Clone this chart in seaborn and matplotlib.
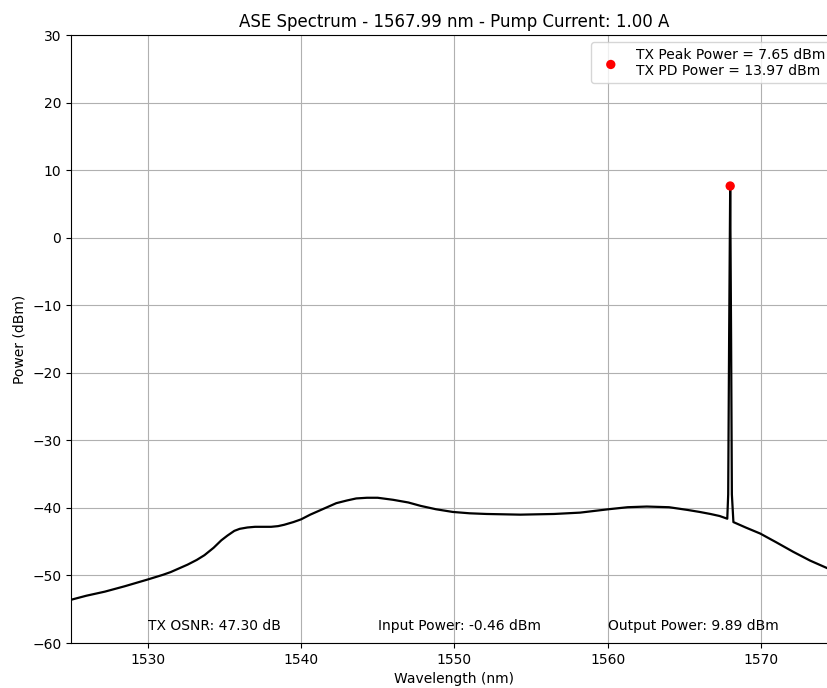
import matplotlib
matplotlib.use("Agg")
import matplotlib.pyplot as plt
import seaborn as sns
import pandas as pd

# ASE spectrum readings (wavelength nm, power dBm)
wavelength = [1525.0, 1526.0, 1527.2, 1528.5, 1530.0, 1531.0, 1531.5, 1532.0, 1532.6,
              1533.2, 1533.7, 1534.3, 1534.8, 1535.2, 1535.65, 1536.0, 1536.5, 1537.0,
              1537.5, 1538.05, 1538.5, 1538.9, 1539.5, 1540.0, 1540.6, 1541.3, 1542.3,
              1543.0, 1543.6, 1544.3, 1545.0, 1546.0, 1547.0, 1547.8, 1548.8, 1549.9,
              1551.0, 1552.1, 1554.3, 1556.5, 1558.2, 1560.05, 1561.3, 1562.55, 1564.0,
              1565.2, 1566.0, 1566.7, 1567.3, 1567.8, 1567.86, 1567.92, 1567.99, 1568.05,
              1568.1, 1568.2, 1569.0, 1569.95, 1571.0, 1572.1, 1573.2, 1574.3, 1575.0]
power = [-53.6, -53.0, -52.4, -51.6, -50.6, -49.9, -49.5, -49.0, -48.4,
         -47.7, -47.0, -45.9, -44.8, -44.1, -43.4, -43.1, -42.9, -42.8,
         -42.8, -42.8, -42.7, -42.5, -42.1, -41.7, -41.0, -40.3, -39.3,
         -38.9, -38.6, -38.5, -38.5, -38.8, -39.2, -39.7, -40.2, -40.6,
         -40.8, -40.9, -41.0, -40.9, -40.7, -40.2, -39.9, -39.8, -39.9,
         -40.3, -40.6, -40.9, -41.2, -41.6, -38.0, -15.0, 7.65, -15.0,
         -38.0, -42.1, -42.9, -43.8, -45.1, -46.5, -47.8, -48.9, -49.6]

peak_wl = [1567.99]
peak_pw = [7.65]
legend_label = "TX Peak Power = 7.65 dBm\nTX PD Power = 13.97 dBm"

title = "ASE Spectrum - 1567.99 nm - Pump Current: 1.00 A"
annotations = ["TX OSNR: 47.30 dB", "Input Power: -0.46 dBm", "Output Power: 9.89 dBm"]
annot_x = [1530.0, 1545.0, 1560.0]
annot_y = -57.5

xticks = [1530, 1540, 1550, 1560, 1570]
yticks = [-60, -50, -40, -30, -20, -10, 0, 10, 20, 30]

df = pd.DataFrame({"wl": wavelength, "pw": power})
dfp = pd.DataFrame({"wl": peak_wl, "pw": peak_pw})

fig = plt.figure(figsize=(8.27, 6.88), dpi=100)
ax = fig.add_axes([0.0859, 0.0654, 0.927, 0.8837])

sns.lineplot(data=df, x="wl", y="pw", ax=ax, color="black", linewidth=1.6,
             sort=False, estimator=None)
sns.scatterplot(data=dfp, x="wl", y="pw", ax=ax, color="red", s=45,
                edgecolor="none", label=legend_label, zorder=5)

ax.set_xlim(1525, 1575)
ax.set_ylim(-60, 30)
ax.set_xticks(xticks)
ax.set_yticks(yticks)
ax.grid(True, color="#b0b0b0", linewidth=0.8)
ax.set_axisbelow(True)
ax.set_title(title, fontsize=12)
ax.set_xlabel("Wavelength (nm)", fontsize=10)
ax.set_ylabel("Power (dBm)", fontsize=10)
ax.tick_params(labelsize=10)

for t, xx in zip(annotations, annot_x):
    ax.text(xx, annot_y, t, fontsize=10, ha="left", va="center")

ax.legend(loc="upper right", fontsize=10, framealpha=0.8)

fig.savefig("out.png", dpi=100)
